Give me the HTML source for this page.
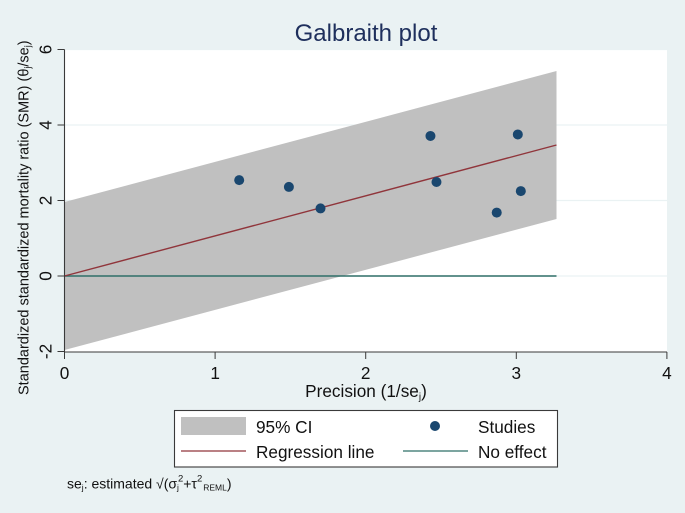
<!DOCTYPE html>
<html>
<head>
<meta charset="utf-8">
<style>
html,body{margin:0;padding:0;background:#eaf2f3;}
svg{display:block;font-family:"Liberation Sans",sans-serif;}
</style>
</head>
<body>
<svg id="chart" xmlns="http://www.w3.org/2000/svg" width="685" height="513" viewBox="0 0 685 513"></svg>
<script>
const xTicks = [0, 1, 2, 3, 4];
const yTicks = [-2, 0, 2, 4, 6];
const studyPrecision = [1.16, 1.49, 1.70, 2.43, 2.47, 2.87, 3.01, 3.03];
const studyEffect = [2.54, 2.36, 1.79, 3.71, 2.49, 1.68, 3.75, 2.25];
const lineXRange = [0, 3.267];
const regressionY = [0, 3.47];
const ciUpperY = [1.96, 5.43];
const ciLowerY = [-1.96, 1.51];
const noEffectY = [0, 0];

const sx = v => 64.5 + v * 150.6;
const sy = v => 276 - v * 37.75;
const svg = document.getElementById('chart');
const NS = 'http://www.w3.org/2000/svg';
function add(tag, attrs, text) {
  const el = document.createElementNS(NS, tag);
  for (const k in attrs) el.setAttribute(k, attrs[k]);
  if (text !== undefined) el.textContent = text;
  svg.appendChild(el);
  return el;
}
let el;

el = add('rect', {x: 64.5, y: 49.5, width: 602.5, height: 302.5, fill: '#ffffff'});



yTicks.forEach(t => {
  if (t === -2) return;
  el = add('line', {x1: 64.5, x2: 667, y1: sy(t), y2: sy(t), stroke: '#eaf2f3', 'stroke-width': 1.2});
  
  
});

el = add('polygon', {
  points: [
    [sx(lineXRange[0]), sy(ciUpperY[0])],
    [sx(lineXRange[1]), sy(ciUpperY[1])],
    [sx(lineXRange[1]), sy(ciLowerY[1])],
    [sx(lineXRange[0]), sy(ciLowerY[0])]
  ].map(p => p.join(',')).join(' '),
  fill: '#c0c0c0'
});



el = add('line', {x1: sx(lineXRange[0]), x2: sx(lineXRange[1]), y1: sy(noEffectY[0]), y2: sy(noEffectY[1]), stroke: '#2f6f68', 'stroke-width': 1.4});



el = add('line', {x1: sx(lineXRange[0]), x2: sx(lineXRange[1]), y1: sy(regressionY[0]), y2: sy(regressionY[1]), stroke: '#90353b', 'stroke-width': 1.4});



studyPrecision.forEach((p, i) => {
  el = add('circle', {cx: sx(p), cy: sy(studyEffect[i]), r: 5, fill: '#1a476f'});
  
  
});

el = add('line', {x1: 64.5, x2: 64.5, y1: 49.5, y2: 352, stroke: '#3a3a3a', 'stroke-width': 1.1});


el = add('line', {x1: 64.5, x2: 667, y1: 352, y2: 352, stroke: '#3a3a3a', 'stroke-width': 1.1});



xTicks.forEach(t => {
  el = add('line', {x1: sx(t), x2: sx(t), y1: 352, y2: 359, stroke: '#3a3a3a', 'stroke-width': 1});
  
  
  el = add('text', {x: sx(t), y: 379, 'font-size': 17.2, 'text-anchor': 'middle', fill: '#111'}, String(t));
  
  
});
yTicks.forEach(t => {
  el = add('line', {x1: 57.5, x2: 64.5, y1: sy(t), y2: sy(t), stroke: '#3a3a3a', 'stroke-width': 1});
  
  
  el = add('text', {x: 0, y: 0, transform: 'translate(51.5,' + sy(t) + ') rotate(-90)', 'font-size': 17.2, 'text-anchor': 'middle', fill: '#111'}, String(t));
  
  
});

el = add('text', {x: 366, y: 41, 'font-size': 24, 'text-anchor': 'middle', fill: '#1e2f5c'}, 'Galbraith plot');



el = add('text', {x: 366, y: 397, 'font-size': 17.2, 'text-anchor': 'middle', fill: '#111'});


el.innerHTML = 'Precision (1/se<tspan font-size="10" dy="3">j</tspan><tspan dy="-3">)</tspan>';

el = add('text', {x: 0, y: 0, transform: 'translate(28.5,395) rotate(-90)', 'font-size': 14.5, fill: '#111'});


el.innerHTML = 'Standardized standardized mortality ratio (SMR) (θ<tspan font-size="9" dy="2">j</tspan><tspan dy="-2">/se</tspan><tspan font-size="9" dy="2">j</tspan><tspan dy="-2">)</tspan>';

el = add('rect', {x: 174.5, y: 410.5, width: 383, height: 56.5, fill: '#ffffff', stroke: '#3a3a3a', 'stroke-width': 1.1});



el = add('rect', {x: 181, y: 417, width: 65, height: 18, fill: '#c0c0c0'});


el = add('text', {x: 256, y: 433, 'font-size': 17.2, fill: '#111'}, '95% CI');



el = add('circle', {cx: 435, cy: 426, r: 5, fill: '#1a476f'});


el = add('text', {x: 478, y: 433, 'font-size': 17.2, fill: '#111'}, 'Studies');



el = add('line', {x1: 181, x2: 246, y1: 451, y2: 451, stroke: '#90353b', 'stroke-width': 1.3});


el = add('text', {x: 256, y: 458, 'font-size': 17.2, fill: '#111'}, 'Regression line');



el = add('line', {x1: 403, x2: 468, y1: 451, y2: 451, stroke: '#2f6f68', 'stroke-width': 1.3});


el = add('text', {x: 478, y: 458, 'font-size': 17.2, fill: '#111'}, 'No effect');



el = add('text', {x: 67, y: 488.5, 'font-size': 14, fill: '#111'});


el.innerHTML = 'se<tspan font-size="8.5" dy="2">j</tspan><tspan dy="-2">: estimated √(σ</tspan><tspan font-size="8.5" dy="2">j</tspan><tspan font-size="9.5" dy="-9" dx="-1">2</tspan><tspan dy="7">+τ</tspan><tspan font-size="9.5" dy="-7">2</tspan><tspan font-size="8.5" dy="9" dx="1">REML</tspan><tspan dy="-2">)</tspan>';
</script>
</body>
</html>
